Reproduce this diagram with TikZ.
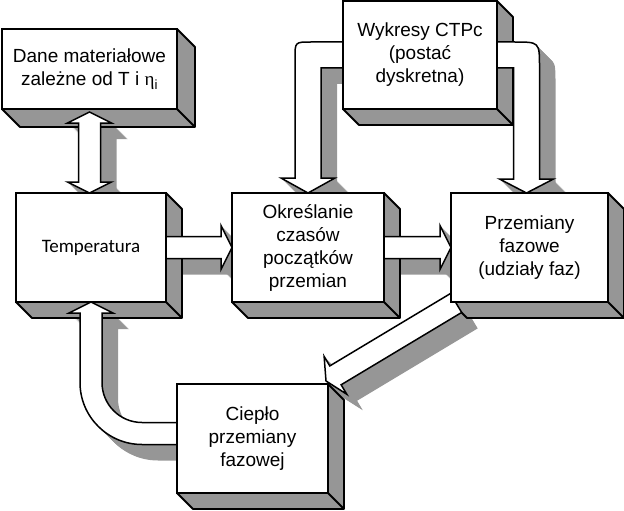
\documentclass[tikz,border=0pt]{standalone}
\usepackage{fontspec}
\setmainfont{Liberation Sans}
\newfontfamily\calibrifont{Carlito}
\newfontfamily\symbolfont{Liberation Serif}
\usepackage{tikz}
\usetikzlibrary{calc,positioning}

\definecolor{sidegray}{RGB}{150,150,150}

\pgfdeclarelayer{shade}
\pgfdeclarelayer{sides}
\pgfdeclarelayer{arrows}
\pgfsetlayers{shade,sides,arrows,main}

\def\sw{11pt}
\def\hw{22pt}
\def\hl{11pt}

% side faces of a box node
\newcommand\solid[2][16]{%
  \begin{pgfonlayer}{sides}
    \filldraw[side] (#2.north east) -- ++(#1,#1) -- ($(#2.south east)+(#1,#1)$)
      -- ($(#2.south west)+(#1,#1)$) -- (#2.south west) -- (#2.south east) -- cycle;
    \draw[side] (#2.south east) -- ++(#1,#1);
  \end{pgfonlayer}}

% block arrow with its depth
\newcommand\solidarrow[1]{%
  \begin{pgfonlayer}{shade}
    \foreach \k in {1,...,16}{
      \begin{scope}[transform canvas={shift={(\k,\k)}}]
        \fill[sidegray] #1;
      \end{scope}}
  \end{pgfonlayer}
  \begin{pgfonlayer}{arrows}
    \filldraw[arrowface] #1;
  \end{pgfonlayer}}

% straight and double block arrows, (h), (h1), (h2) = head bases
\newcommand\straightpath[2]{($(#1)!\sw!90:(#2)$) -- ($(h)!\sw!90:(#2)$) -- ($(h)!\hw!90:(#2)$) -- (#2)
  -- ($(h)!\hw!-90:(#2)$) -- ($(h)!\sw!-90:(#2)$) -- ($(#1)!\sw!-90:(#2)$) -- cycle}
\newcommand\doublepath[2]{(#1) -- ($(h1)!\hw!90:(#2)$) -- ($(h1)!\sw!90:(#2)$) -- ($(h2)!\sw!90:(#2)$)
  -- ($(h2)!\hw!90:(#2)$) -- (#2) -- ($(h2)!\hw!-90:(#2)$) -- ($(h2)!\sw!-90:(#2)$)
  -- ($(h1)!\sw!-90:(#2)$) -- ($(h1)!\hw!-90:(#2)$) -- cycle}

\begin{document}
\begin{tikzpicture}[x=1pt, y=-1pt,
    box/.style={draw, fill=white, line width=1.8pt, align=center, inner sep=0pt, outer sep=0pt,
      minimum height=109pt, font=\fontsize{19}{23}\selectfont},
    side/.style={draw, fill=sidegray, line width=1.8pt, line join=round},
    arrowface/.style={draw, fill=white, line width=1.5pt}
  ]
  \useasboundingbox (0,0) rectangle (624,511);

  \node[box, minimum width=175pt, minimum height=80pt] (dane) at (89.5,69) {Dane materiałowe\\zależne od T i {\symbolfont η}\textsubscript{i}};
  \node[box, minimum width=154pt, minimum height=108pt] (wyk) at (420,55) {Wykresy CTPc\\(postać\\dyskretna)};
  \node[box, minimum width=150pt] (temp) at (91,247.5) {\calibrifont Temperatura};
  \node[box, minimum width=152pt, right=66pt of temp] (okr) {Określanie\\czasów\\początków\\przemian};
  \node[box, minimum width=157pt, right=67pt of okr] (przem) {Przemiany\\fazowe\\(udziały faz)};
  \node[box, minimum width=151pt] (ciep) at (252.5,438.5) {Ciepło\\przemiany\\fazowej};

  \solid[18]{dane}
  \solid{wyk}
  \solid{temp}
  \solid{okr}
  \solid{przem}
  \solid{ciep}

  % dane <-> temp
  \coordinate (a1) at ($(dane.south)+(0,3)$);
  \coordinate (b1) at (a1 |- temp.north);
  \coordinate (h1) at ($(a1)!\hl!(b1)$);
  \coordinate (h2) at ($(b1)!\hl!(a1)$);
  \solidarrow{\doublepath{a1}{b1}}

  % row
  \coordinate (h) at ($(okr.west)!\hl!(temp.east)$);
  \solidarrow{\straightpath{temp.east}{okr.west}}
  \coordinate (h) at ($(przem.west)!\hl!(okr.east)$);
  \solidarrow{\straightpath{okr.east}{przem.west}}

  % wykresy -> okr
  \coordinate (c1) at (okr.north |- wyk.west);
  \solidarrow{($(wyk.west)+(0,-13)$) -- ($(c1)+(3,-13)$) .. controls ($(c1)+(-13,-13)$) .. ($(c1)+(-13,3)$)
    -- ($(okr.north)+(-13,-15)$) -- ($(okr.north)+(-27,-15)$) -- (okr.north) -- ($(okr.north)+(27,-15)$)
    -- ($(okr.north)+(13,-15)$) -- ($(c1)+(13,13)$) -- ($(wyk.west)+(0,13)$) -- cycle}

  % wykresy -> przem
  \coordinate (c2) at ($(przem.north |- wyk.east)+(-3,0)$);
  \coordinate (t2) at ($(przem.north)+(-3,0)$);
  \solidarrow{($(wyk.east)+(0,-13)$) -- ($(c2)+(-12,-13)$) .. controls ($(c2)+(13,-13)$) .. ($(c2)+(13,12)$)
    -- ($(t2)+(13,-14)$) -- ($(t2)+(27,-14)$) -- (t2) -- ($(t2)+(-27,-14)$)
    -- ($(t2)+(-13,-14)$) -- ($(c2)+(-13,13)$) -- ($(wyk.east)+(0,13)$) -- cycle}

  % przem -> ciep
  \coordinate (a5) at ($(przem.south west)+(5,1)$);
  \coordinate (b5) at ($(ciep.north east)+(-2,-3)$);
  \coordinate (h) at ($(b5)!\hl!(a5)$);
  \solidarrow{\straightpath{a5}{b5}}

  % ciep -> temp
  \coordinate (s3) at ($(ciep.west)+(0,-5)$);
  \coordinate (k) at (temp.south |- s3);
  \solidarrow{($(s3)+(0,11)$) -- ($(k)+(51,11)$) .. controls ($(k)+(16.8,11)$) and ($(k)+(-11,-16.8)$) .. ($(k)+(-11,-51)$)
    -- ($(temp.south)+(-11,11)$) -- ($(temp.south)+(-22,11)$) -- (temp.south) -- ($(temp.south)+(22,11)$)
    -- ($(temp.south)+(11,11)$) -- ($(k)+(11,-51)$) .. controls ($(k)+(11,-28.9)$) and ($(k)+(28.9,-11)$) .. ($(k)+(51,-11)$)
    -- ($(s3)+(0,-11)$) -- cycle}
\end{tikzpicture}
\end{document}
